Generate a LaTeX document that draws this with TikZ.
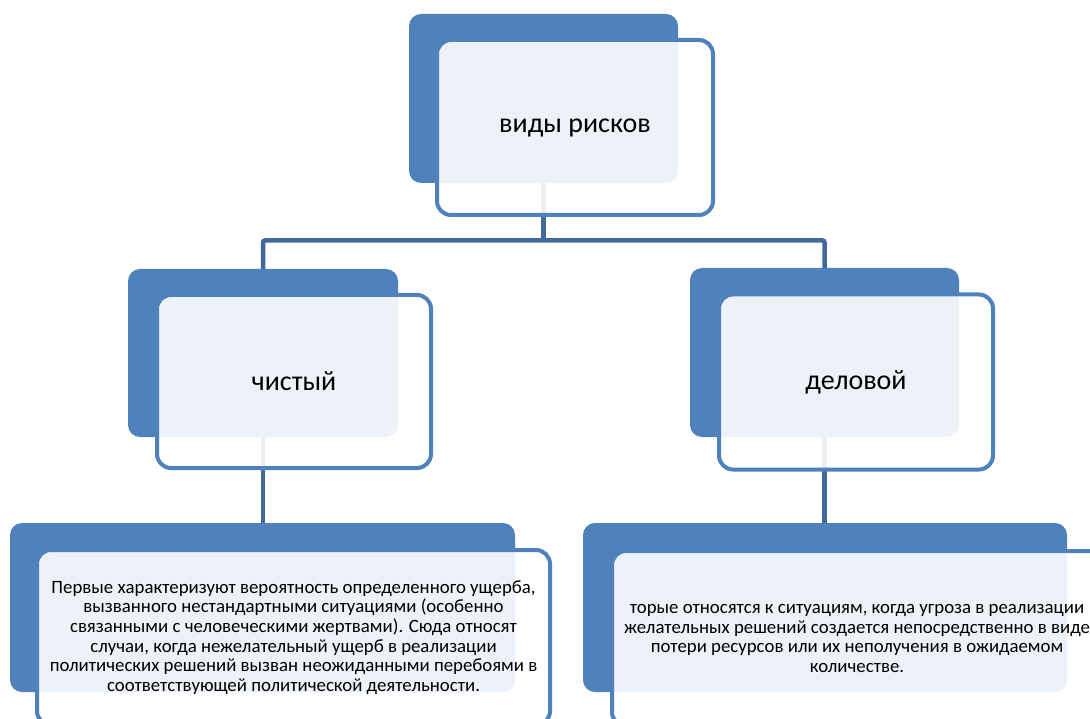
\documentclass[tikz,border=0pt]{standalone}
\usepackage{fontspec}
\setmainfont{Carlito}
\usetikzlibrary{positioning}

\definecolor{riskblue}{HTML}{4F81BD}
\definecolor{risklink}{HTML}{41699C}

\tikzstyle{backbox} = [fill=riskblue, rectangle, rounded corners=12pt,
  inner sep=0pt]
\tikzstyle{frontbox} = [draw=riskblue, line width=4pt, fill=white,
  fill opacity=0.9, text opacity=1, rectangle, rounded corners=14pt,
  inner sep=0pt, align=center]
\tikzstyle{link} = [draw=risklink, line width=4.5pt]
\tikzstyle{headtext} = [font=\fontsize{28}{32}\selectfont]
\tikzstyle{bodytext} = [font=\fontsize{18.8}{19.6}\selectfont]

\begin{document}
\begin{tikzpicture}[x=1pt, y=-1pt]
        \useasboundingbox (0,0) rectangle (1090,719);
        \clip (0,0) rectangle (1090,719);

        % back plates
        \node [backbox, minimum width=269pt, minimum height=169pt] (kindsback)     at (543.5, 98.5) {};
        \node [backbox, minimum width=270pt, minimum height=168pt] (pureback)      at (263, 353)    {};
        \node [backbox, minimum width=269pt, minimum height=169pt] (bizback)       at (824.5, 352.5) {};
        \node [backbox, minimum width=505pt, minimum height=169pt] (puredescback)  at (262.5, 607.5) {};
        \node [backbox, minimum width=484pt, minimum height=169pt] (bizdescback)   at (825, 607.5)   {};

        % links
        \coordinate (bar) at (543.5, 240.5);
        \draw[link] (kindsback.south) -- (kindsback.south |- bar);
        \draw[link, rounded corners=2pt] (pureback.north) |- (bar) -| (bizback.north);
        \draw[link] (pureback.south) -- (pureback.south |- puredescback.north);
        \draw[link] (bizback.south) -- (bizback.south |- bizdescback.north);

        % front boxes
        \node [frontbox, headtext, minimum width=276pt, minimum height=175pt] (kinds) at (575, 127.5) {виды рисков};
        \node [frontbox, headtext, minimum width=274pt, minimum height=173pt] (pure)  at (294, 381.5) {чистый};
        \node [frontbox, headtext, minimum width=274pt, minimum height=175pt] (biz)   at (856, 382)   {деловой};
        \node [frontbox, bodytext, minimum width=513pt, minimum height=175pt] (puredesc) at (293.5, 637.5)
          {Первые характеризуют вероятность определенного ущерба,\\
           вызванного нестандартными ситуациями (особенно\\
           связанными с человеческими жертвами). Сюда относят\\
           случаи, когда нежелательный ущерб в реализации\\
           политических решений вызван неожиданными перебоями в\\
           соответствующей политической деятельности.};
        \node [frontbox, bodytext, minimum width=490pt, minimum height=175pt] (bizdesc) at (857, 638.5)
          {торые относятся к ситуациям, когда угроза в реализации\\
           желательных решений создается непосредственно в виде\\
           потери ресурсов или их неполучения в ожидаемом\\
           количестве.};
      \end{tikzpicture}
\end{document}
